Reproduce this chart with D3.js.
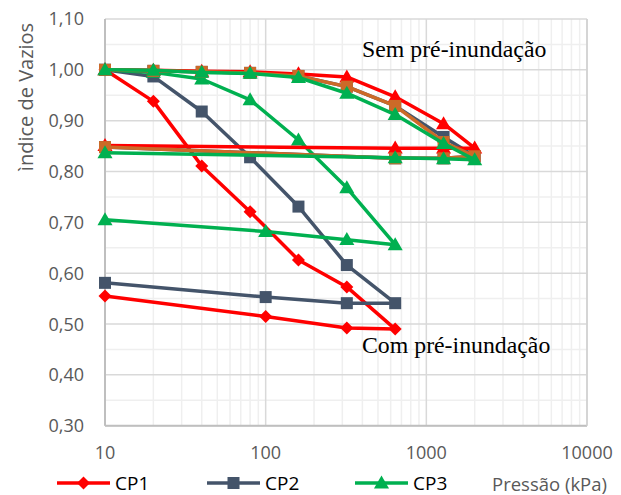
<!DOCTYPE html>
<html><head><meta charset="utf-8">
<script src="https://cdn.jsdelivr.net/npm/d3@7"></script>
<style>body{margin:0;background:#fff}svg{display:block}</style>
</head><body>
<svg id="c" width="621" height="495"></svg>
<script>
// ---- data ----
const comPressures = [10, 20, 40, 80, 160, 320, 640, 320, 100, 10];
const cp1Com = [1.000, 0.938, 0.811, 0.721, 0.626, 0.573, 0.490, 0.492, 0.515, 0.555];
const cp2Com = [1.000, 0.987, 0.918, 0.828, 0.731, 0.616, 0.541, 0.541, 0.553, 0.581];
const cp3Com = [1.000, 0.995, 0.982, 0.941, 0.862, 0.768, 0.656, 0.666, 0.682, 0.705];

const semPressures = [10, 20, 40, 80, 160, 320, 640, 1280, 2000, 1280, 640, 10];
const cp1Sem = [1.000, 0.999, 0.997, 0.996, 0.992, 0.986, 0.947, 0.894, 0.846, 0.846, 0.846, 0.851];
const cp2Sem = [1.000, 0.998, 0.996, 0.994, 0.988, 0.967, 0.929, 0.868, 0.830, 0.826, 0.826, 0.848];
const cp2bSem = [1.000, 0.998, 0.996, 0.994, 0.988, 0.967, 0.929, 0.858, 0.830, 0.826, 0.826, 0.848];
const cp3Sem = [1.000, 0.999, 0.995, 0.993, 0.985, 0.954, 0.912, 0.855, 0.823, 0.825, 0.827, 0.837];

const xTicks = [10, 100, 1000, 10000];
const yTicks = [0.30, 0.40, 0.50, 0.60, 0.70, 0.80, 0.90, 1.00, 1.10];
const legendNames = ["CP1", "CP2", "CP3"];

// ---- layout ----
const svg = d3.select("#c");
const x = d3.scaleLog().domain([10, 10000]).range([105, 587]);
const y = d3.scaleLinear().domain([0.30, 1.10]).range([425.7, 19]);
const RED = "#ff0000", DARK = "#44546a", GREEN = "#00b050", ORANGE = "#cc6a28";
const sans = "'Open Sans', sans-serif";

// grid
const g = svg.append("g");
const minorX = [];
for (let d = 10; d < 10000; d *= 10) for (let k = 2; k <= 9; k++) minorX.push(d * k);
g.selectAll(".mx").data(minorX).enter().append("line")
  .attr("x1", d => x(d)).attr("x2", d => x(d)).attr("y1", y(1.10)).attr("y2", y(0.30))
  .attr("stroke", "#efefef").attr("stroke-width", 1.5);
const minorY = d3.range(0.35, 1.10, 0.1);
g.selectAll(".my").data(minorY).enter().append("line")
  .attr("x1", x(10)).attr("x2", x(10000)).attr("y1", d => y(d)).attr("y2", d => y(d))
  .attr("stroke", "#efefef").attr("stroke-width", 1.5);
g.selectAll(".Mx").data(xTicks).enter().append("line")
  .attr("x1", d => x(d)).attr("x2", d => x(d)).attr("y1", y(1.10)).attr("y2", y(0.30))
  .attr("stroke", "#d9d9d9").attr("stroke-width", 1.5);
g.selectAll(".My").data(yTicks).enter().append("line")
  .attr("x1", x(10)).attr("x2", x(10000)).attr("y1", d => y(d)).attr("y2", d => y(d))
  .attr("stroke", "#d9d9d9").attr("stroke-width", 1.5);
// axis lines
g.append("line").attr("x1", x(10)).attr("x2", x(10000)).attr("y1", y(0.30)).attr("y2", y(0.30))
  .attr("stroke", "#bfbfbf").attr("stroke-width", 2);
g.append("line").attr("x1", x(10)).attr("x2", x(10)).attr("y1", y(1.10)).attr("y2", y(0.30))
  .attr("stroke", "#bfbfbf").attr("stroke-width", 2);
g.append("line").attr("x1", x(10000)).attr("x2", x(10000)).attr("y1", y(1.10)).attr("y2", y(0.30))
  .attr("stroke", "#d0d0d0").attr("stroke-width", 1.5);

// tick labels
svg.selectAll(".yt").data(yTicks).enter().append("text")
  .attr("x", 84).attr("y", d => y(d)).attr("dy", "0.36em").attr("text-anchor", "end")
  .attr("font-family", sans).attr("font-size", 18).attr("fill", "#595959")
  .text(d => d3.format(".2f")(d).replace(".", ","));
svg.selectAll(".xt").data(xTicks).enter().append("text")
  .attr("x", d => x(d)).attr("y", 453).attr("dy", "0.36em").attr("text-anchor", "middle")
  .attr("font-family", sans).attr("font-size", 18).attr("fill", "#595959")
  .text(d => d);

// axis title
svg.append("text").attr("transform", "translate(33,97) rotate(-90)")
  .attr("text-anchor", "middle").attr("font-family", sans).attr("font-size", 20).attr("fill", "#595959")
  .text("ìndice de Vazios");

// markers
function marker(sel, type, color, size) {
  if (type === "diamond") {
    sel.append("path").attr("d", d3.symbol().type(d3.symbolSquare).size(size * size * 0.5)())
      .attr("transform", d => `translate(${d[0]},${d[1]}) rotate(45)`).attr("fill", color);
  } else if (type === "square") {
    sel.append("rect").attr("x", d => d[0] - size / 2).attr("y", d => d[1] - size / 2)
      .attr("width", size).attr("height", size).attr("fill", color);
  } else {
    sel.append("path").attr("d", `M0,${-size * 0.58}L${size * 0.58},${size * 0.42}L${-size * 0.58},${size * 0.42}Z`)
      .attr("transform", d => `translate(${d[0]},${d[1]})`).attr("fill", color);
  }
}
const line = d3.line().x(d => x(d[0])).y(d => y(d[1]));
function series(ps, vs, color, type, size) {
  const pts = ps.map((p, i) => [p, vs[i]]);
  const s = svg.append("g");
  s.append("path").attr("d", line(pts)).attr("fill", "none").attr("stroke", color)
    .attr("stroke-width", 3.5).attr("stroke-linejoin", "round");
  const m = s.selectAll("g").data(pts.map(p => [x(p[0]), y(p[1])])).enter().append("g");
  marker(m, type, color, size);
}
series(comPressures, cp1Com, RED, "diamond", 13);
series(comPressures, cp2Com, DARK, "square", 12);
series(comPressures, cp3Com, GREEN, "triangle", 13);
series(semPressures, cp2Sem, DARK, "square", 12);
series(semPressures, cp1Sem, RED, "triangle", 13);
series(semPressures, cp2bSem, ORANGE, "square", 12);
series(semPressures, cp3Sem, GREEN, "triangle", 13);

// annotations
const serif = "'Liberation Serif', 'Times New Roman', serif";
svg.append("text").attr("x", 362).attr("y", 57).attr("font-family", serif).attr("font-size", 23.8)
  .attr("fill", "#000").text("Sem pré-inundação");
svg.append("text").attr("x", 362).attr("y", 353).attr("font-family", serif).attr("font-size", 23.8)
  .attr("fill", "#000").text("Com pré-inundação");

// legend
const legX = [57, 207, 355];
const legColors = [RED, DARK, GREEN];
const legTypes = ["diamond", "square", "triangle"];
legendNames.forEach((n, i) => {
  const lg = svg.append("g");
  lg.append("line").attr("x1", legX[i]).attr("x2", legX[i] + 53).attr("y1", 483).attr("y2", 483)
    .attr("stroke", legColors[i]).attr("stroke-width", 3.5);
  const m = lg.selectAll("g").data([[legX[i] + 26.5, 483]]).enter().append("g");
  marker(m, legTypes[i], legColors[i], legTypes[i] === "square" ? 12 : 13);
  lg.append("text").attr("x", legX[i] + 58).attr("y", 483).attr("dy", "0.36em")
    .attr("font-family", sans).attr("font-size", 19).attr("fill", "#000").text(n);
});
svg.append("text").attr("x", 492).attr("y", 484).attr("dy", "0.36em")
  .attr("font-family", sans).attr("font-size", 18.5).attr("fill", "#595959").text("Pressão (kPa)");
</script>
</body></html>
